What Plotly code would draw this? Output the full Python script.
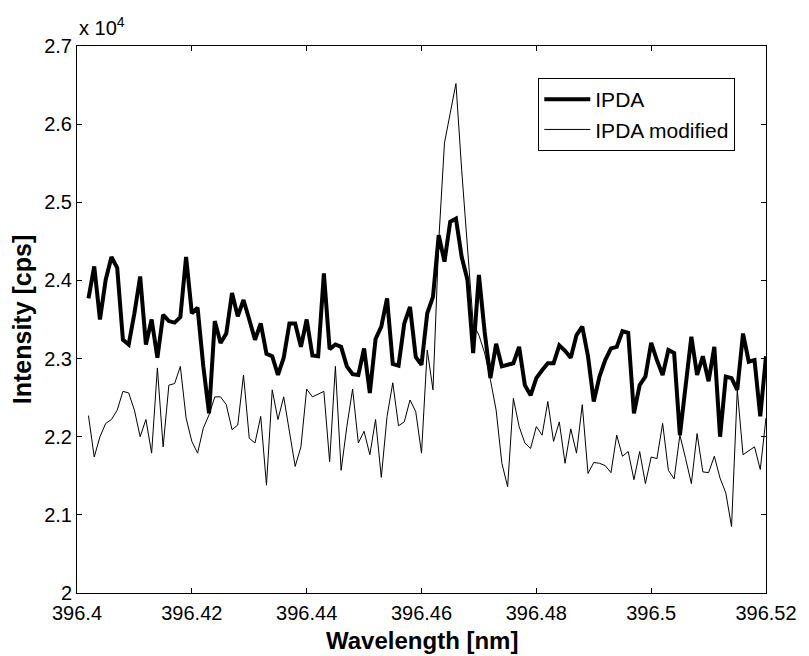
import plotly.graph_objects as go

# Wavelength sampling grid: first sample and step (nm)
wl_start = 396.402
wl_step = 0.001

# Intensities in units of 1e4 cps
ipda = [2.377, 2.418, 2.350, 2.401, 2.430, 2.416, 2.324, 2.318, 2.358, 2.405,
        2.318, 2.350, 2.301, 2.356, 2.348, 2.346, 2.353, 2.430, 2.358, 2.365,
        2.290, 2.230, 2.348, 2.320, 2.332, 2.384, 2.354, 2.375, 2.350, 2.324,
        2.345, 2.306, 2.303, 2.279, 2.301, 2.345, 2.345, 2.315, 2.350, 2.304,
        2.303, 2.409, 2.312, 2.318, 2.315, 2.290, 2.280, 2.279, 2.313, 2.256,
        2.325, 2.341, 2.377, 2.293, 2.291, 2.345, 2.366, 2.302, 2.292, 2.358,
        2.379, 2.458, 2.424, 2.475, 2.479, 2.430, 2.401, 2.307, 2.407, 2.334,
        2.275, 2.319, 2.290, 2.292, 2.294, 2.315, 2.266, 2.253, 2.275, 2.285,
        2.294, 2.294, 2.317, 2.310, 2.301, 2.330, 2.341, 2.303, 2.245, 2.277,
        2.298, 2.313, 2.315, 2.335, 2.333, 2.230, 2.266, 2.277, 2.320, 2.298,
        2.279, 2.311, 2.307, 2.202, 2.269, 2.328, 2.279, 2.303, 2.271, 2.315,
        2.200, 2.277, 2.275, 2.260, 2.332, 2.296, 2.298, 2.226, 2.303]

ipda_mod = [2.227, 2.174, 2.200, 2.217, 2.222, 2.234, 2.258, 2.256, 2.234, 2.200,
            2.222, 2.179, 2.288, 2.187, 2.266, 2.268, 2.290, 2.224, 2.194, 2.179,
            2.211, 2.228, 2.251, 2.251, 2.241, 2.209, 2.215, 2.279, 2.198, 2.192,
            2.226, 2.138, 2.260, 2.222, 2.251, 2.207, 2.162, 2.187, 2.261, 2.251,
            2.255, 2.258, 2.168, 2.290, 2.157, 2.213, 2.261, 2.192, 2.207, 2.177,
            2.222, 2.148, 2.226, 2.269, 2.214, 2.219, 2.247, 2.232, 2.179, 2.311,
            2.260, 2.450, 2.576, 2.614, 2.652, 2.541, 2.439, 2.345, 2.330, 2.307,
            2.273, 2.234, 2.166, 2.136, 2.249, 2.213, 2.192, 2.185, 2.213, 2.202,
            2.245, 2.194, 2.219, 2.166, 2.210, 2.179, 2.241, 2.153, 2.167, 2.166,
            2.163, 2.154, 2.202, 2.175, 2.181, 2.145, 2.181, 2.140, 2.174, 2.172,
            2.217, 2.157, 2.146, 2.202, 2.172, 2.140, 2.204, 2.155, 2.154, 2.175,
            2.147, 2.128, 2.085, 2.260, 2.177, 2.182, 2.187, 2.158, 2.224]

x_tick_vals = [396.40, 396.42, 396.44, 396.46, 396.48, 396.50, 396.52]
x_tick_text = ["396.4", "396.42", "396.44", "396.46", "396.48", "396.5", "396.52"]
y_tick_vals = [20000, 21000, 22000, 23000, 24000, 25000, 26000, 27000]
y_tick_text = ["2", "2.1", "2.2", "2.3", "2.4", "2.5", "2.6", "2.7"]

wavelength = [round(wl_start + wl_step * i, 3) for i in range(len(ipda))]
scale = 1e4

FONT = "Arial, Liberation Sans, Helvetica, sans-serif"

# The page body adds an 8 px margin, so the figure is 8 px smaller each way
FIG_W, FIG_H = 801, 648
M_L, M_R, M_T, M_B = 69, 33, 38, 63
PLOT_H = FIG_H - M_T - M_B

fig = go.Figure()
fig.add_trace(go.Scatter(x=wavelength, y=[v * scale for v in ipda], mode="lines",
                         name="IPDA", line=dict(color="black", width=4)))
fig.add_trace(go.Scatter(x=wavelength, y=[v * scale for v in ipda_mod], mode="lines",
                         name="IPDA modified", line=dict(color="black", width=1)))

axis_common = dict(showgrid=False, zeroline=False, showline=True, linecolor="black",
                   linewidth=1, mirror="ticks", ticks="inside", ticklen=5,
                   tickcolor="black", tickfont=dict(family=FONT, size=20, color="black"))

fig.update_xaxes(range=[396.4, 396.52], tickvals=x_tick_vals, ticktext=x_tick_text,
                 ticklabelstandoff=2, **axis_common)
fig.update_yaxes(range=[20000, 27000], tickvals=y_tick_vals, ticktext=y_tick_text,
                 title=dict(text="<b>Intensity [cps]</b>", standoff=6,
                            font=dict(family=FONT, size=25, color="black")),
                 **axis_common)

# x-axis title placed as a paper annotation so it sits fully inside the page
fig.add_annotation(text="<b>Wavelength [nm]</b>", xref="paper", yref="paper",
                   x=0.5, y=-M_B / PLOT_H, xanchor="center", yanchor="bottom",
                   showarrow=False, font=dict(family=FONT, size=24, color="black"))

fig.add_annotation(text="x 10<sup>4</sup>", xref="paper", yref="paper", x=0, y=1,
                   xanchor="left", yanchor="bottom", showarrow=False, yshift=5,
                   font=dict(family=FONT, size=20, color="black"))

fig.update_layout(
    width=FIG_W, height=FIG_H,
    margin=dict(l=M_L, r=M_R, t=M_T, b=M_B),
    paper_bgcolor="white", plot_bgcolor="white",
    showlegend=True,
    legend=dict(x=0.6695, y=0.9415, xanchor="left", yanchor="top",
                bordercolor="black", borderwidth=1, bgcolor="white",
                font=dict(family=FONT, size=21, color="black"),
                tracegroupgap=0, itemwidth=46),
)

fig.write_html("out.html")
